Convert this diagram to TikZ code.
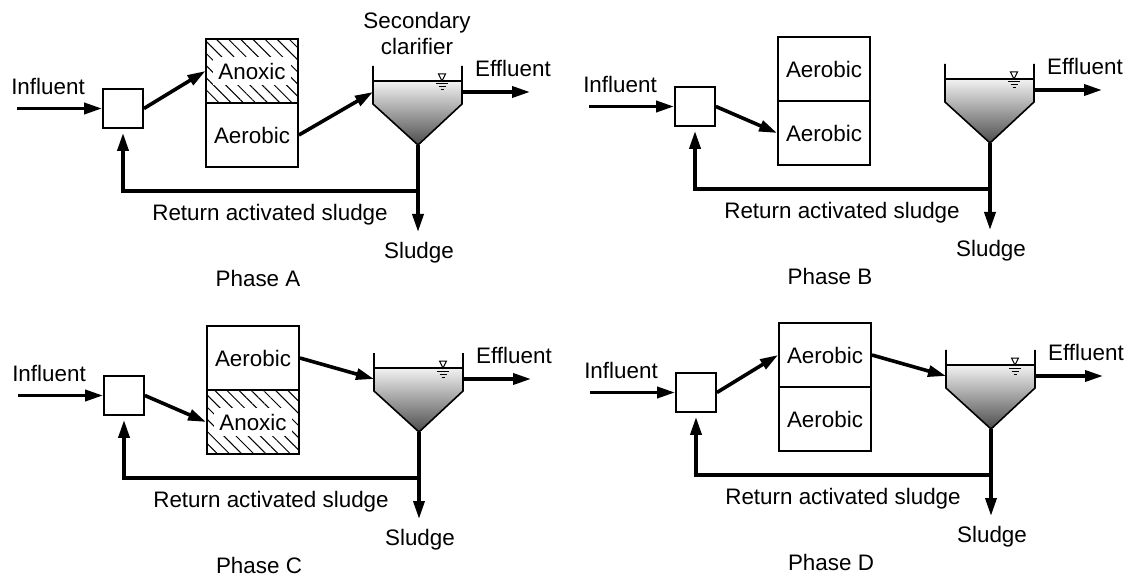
\documentclass[tikz,border=0pt]{standalone}
\usepackage{fontspec}
\setmainfont{Liberation Sans}
\usetikzlibrary{arrows.meta,positioning,calc,patterns.meta}

\tikzset{
  every node/.style={font=\fontsize{11.2}{13}\selectfont},
  flow/.style={line width=1.8pt,-{Triangle[length=9pt,width=5.5pt]}},
  mixer/.style={draw,line width=0.9pt,minimum width=20pt,minimum height=19.5pt,inner sep=0pt},
  aerobic/.style={draw,line width=0.9pt,minimum width=46pt,minimum height=32pt,inner sep=0pt},
  anoxic/.style={aerobic,pattern={Lines[angle=-45,distance=4.3pt,line width=0.5pt]}},
  anoxlab/.style={fill=white,inner xsep=2.5pt,inner ysep=3pt},
}

% mixing box, clarifier, return line and labels of one phase
\newcommand\plantcommon{%
  % Influent
  \node (infl) at (48,86) {Influent};
  \coordinate (inflstart) at (17,108.5);
  \node[mixer] (mix) at (123,108.5) {};
  \draw[flow] (inflstart) -- (mix.west);
  % Clarifier
  \coordinate (apex) at (418,145);
  \coordinate (inlet) at (373,92);
  \coordinate (outlet) at (462,92);
  \fill[top color=black!5,bottom color=black!70] (373,81) -- (373,104) -- (apex) -- (462,104) -- (462,81) -- cycle;
  \draw[line width=0.8pt] (373,66) -- (373,104) -- (apex) -- (462,104) -- (462,66);
  \draw[line width=0.6pt] (373,81) -- (462,81);
  \draw[line width=0.5pt] (438.5,74) -- (445.5,74) -- (442,81) -- cycle;
  \draw[line width=0.5pt] (436,84) -- (448,84) (438.5,87) -- (445.5,87) (440.5,90) -- (443.5,90);
  % Effluent
  \coordinate (effend) at (530,92);
  \draw[flow] (outlet) -- (effend);
  \node (effl) at (513,68) {Effluent};
  % Sludge and return
  \coordinate (junc) at (418,191);
  \coordinate (sludgeend) at (418,232);
  \draw[flow] (apex) -- (sludgeend);
  \draw[flow,shorten >=2pt] (junc) -| (mix.south);
  \node (ras) at (270,215) {Return activated sludge};
  \node (sludge) at (419,253) {Sludge};
}

\begin{document}
\begin{tikzpicture}[x=0.5pt,y=-0.5pt]
  \useasboundingbox (0,0) rectangle (1130,577);

  % Phase A
  \begin{scope}
    \plantcommon
    \node[anoxic] (top) at (252,71) {};
    \node[anoxlab] (toplab) at (top) {Anoxic};
    \node[aerobic] (bot) at (252,135) {Aerobic};
    \draw[flow] (mix.east) -- (top.west);
    \draw[flow] (bot.east) -- (inlet);
    \node[align=center] (seccl) at (417,33) {Secondary\\clarifier};
    \node (phase) at (258,278) {Phase A};
  \end{scope}

  % Phase B
  \begin{scope}[shift={(572,-2)}]
    \plantcommon
    \node[aerobic] (top) at (252,71) {Aerobic};
    \node[aerobic] (bot) at (252,135) {Aerobic};
    \draw[flow] (mix.east) -- (bot.west);
    \node (phase) at (258,278) {Phase B};
  \end{scope}

  % Phase C
  \begin{scope}[shift={(1,287)}]
    \plantcommon
    \node[aerobic] (top) at (252,71) {Aerobic};
    \node[anoxic] (bot) at (252,135) {};
    \node[anoxlab] (botlab) at (bot) {Anoxic};
    \draw[flow] (mix.east) -- (bot.west);
    \draw[flow] (top.east) -- (inlet);
    \node (phase) at (258,278) {Phase C};
  \end{scope}

  % Phase D
  \begin{scope}[shift={(573,284)}]
    \plantcommon
    \node[aerobic] (top) at (252,71) {Aerobic};
    \node[aerobic] (bot) at (252,135) {Aerobic};
    \draw[flow] (mix.east) -- (top.west);
    \draw[flow] (top.east) -- (inlet);
    \node (phase) at (258,278) {Phase D};
  \end{scope}
\end{tikzpicture}
\end{document}
